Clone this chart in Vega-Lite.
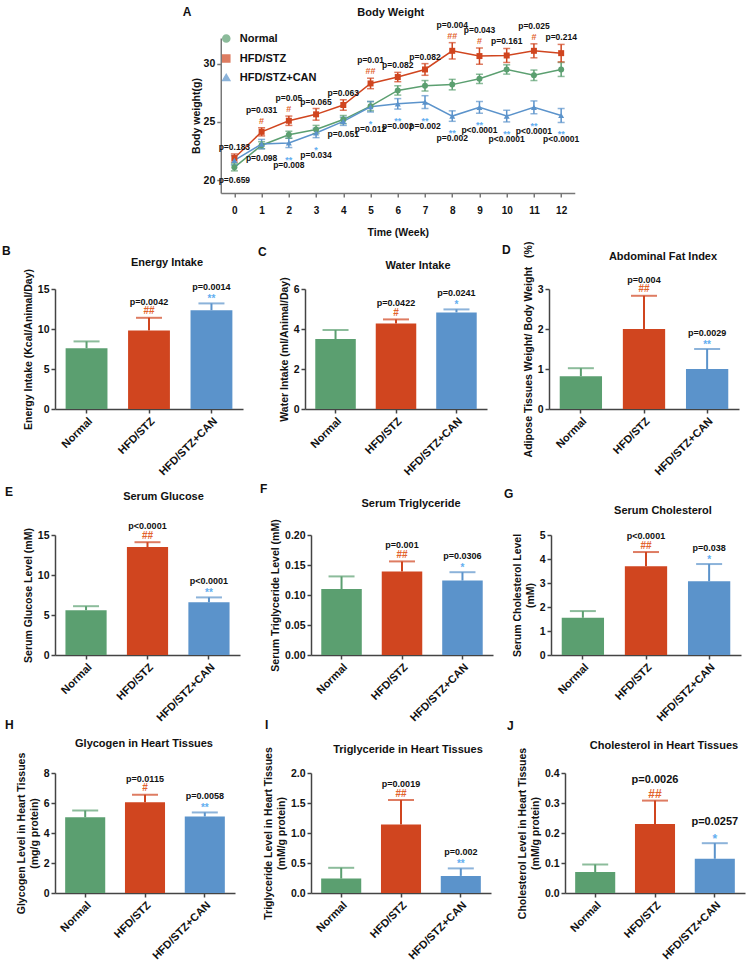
{
"$schema": "https://vega.github.io/schema/vega-lite/v6.json",
"padding": {"left": 2, "top": 5, "right": 2, "bottom": 2},
"background": "white",
"config": {
 "font": "Liberation Sans",
 "view": {"stroke": null},
 "axis": {"grid": false, "labelOverlap": false, "labelFlush": false, "domainColor": "#444", "domainWidth": 1.5, "tickColor": "#444", "tickWidth": 1.5, "tickSize": 4, "labelColor": "#111", "labelFontWeight": "bold", "labelFontSize": 10.5, "labelFont": "Liberation Sans", "titleFont": "Liberation Sans", "titleFontWeight": "bold", "titleFontSize": 10.5, "titleColor": "#111", "labelPadding": 2},
 "title": {"font": "Liberation Sans", "fontWeight": "bold", "fontSize": 11, "color": "#111"},
 "text": {"font": "Liberation Sans"}
},
"datasets": {
 "A": [
  {"week":0,"group":"Normal","mean":21.1,"lo":20.8,"hi":21.4},
  {"week":1,"group":"Normal","mean":23.0,"lo":22.7,"hi":23.3},
  {"week":2,"group":"Normal","mean":23.9,"lo":23.6,"hi":24.2},
  {"week":3,"group":"Normal","mean":24.35,"lo":24.0,"hi":24.7},
  {"week":4,"group":"Normal","mean":25.2,"lo":24.85,"hi":25.55},
  {"week":5,"group":"Normal","mean":26.35,"lo":25.95,"hi":26.75},
  {"week":6,"group":"Normal","mean":27.7,"lo":27.3,"hi":28.1},
  {"week":7,"group":"Normal","mean":28.1,"lo":27.65,"hi":28.55},
  {"week":8,"group":"Normal","mean":28.2,"lo":27.75,"hi":28.65},
  {"week":9,"group":"Normal","mean":28.7,"lo":28.3,"hi":29.1},
  {"week":10,"group":"Normal","mean":29.5,"lo":29.1,"hi":29.9},
  {"week":11,"group":"Normal","mean":29.0,"lo":28.55,"hi":29.45},
  {"week":12,"group":"Normal","mean":29.5,"lo":28.9,"hi":30.1},
  {"week":0,"group":"HFD/STZ","mean":21.9,"lo":21.55,"hi":22.25},
  {"week":1,"group":"HFD/STZ","mean":24.15,"lo":23.8,"hi":24.5},
  {"week":2,"group":"HFD/STZ","mean":25.1,"lo":24.7,"hi":25.5},
  {"week":3,"group":"HFD/STZ","mean":25.65,"lo":25.15,"hi":26.15},
  {"week":4,"group":"HFD/STZ","mean":26.45,"lo":26.0,"hi":26.9},
  {"week":5,"group":"HFD/STZ","mean":28.3,"lo":27.85,"hi":28.75},
  {"week":6,"group":"HFD/STZ","mean":28.85,"lo":28.45,"hi":29.25},
  {"week":7,"group":"HFD/STZ","mean":29.5,"lo":29.0,"hi":30.0},
  {"week":8,"group":"HFD/STZ","mean":31.1,"lo":30.4,"hi":31.8},
  {"week":9,"group":"HFD/STZ","mean":30.65,"lo":29.95,"hi":31.35},
  {"week":10,"group":"HFD/STZ","mean":30.7,"lo":30.1,"hi":31.3},
  {"week":11,"group":"HFD/STZ","mean":31.1,"lo":30.5,"hi":31.7},
  {"week":12,"group":"HFD/STZ","mean":30.9,"lo":30.15,"hi":31.65},
  {"week":0,"group":"HFD/STZ+CAN","mean":21.7,"lo":21.3,"hi":22.1},
  {"week":1,"group":"HFD/STZ+CAN","mean":23.1,"lo":22.7,"hi":23.5},
  {"week":2,"group":"HFD/STZ+CAN","mean":23.2,"lo":22.8,"hi":23.6},
  {"week":3,"group":"HFD/STZ+CAN","mean":24.05,"lo":23.65,"hi":24.45},
  {"week":4,"group":"HFD/STZ+CAN","mean":25.05,"lo":24.7,"hi":25.4},
  {"week":5,"group":"HFD/STZ+CAN","mean":26.3,"lo":25.85,"hi":26.75},
  {"week":6,"group":"HFD/STZ+CAN","mean":26.55,"lo":26.1,"hi":27.0},
  {"week":7,"group":"HFD/STZ+CAN","mean":26.7,"lo":26.15,"hi":27.25},
  {"week":8,"group":"HFD/STZ+CAN","mean":25.5,"lo":25.05,"hi":25.95},
  {"week":9,"group":"HFD/STZ+CAN","mean":26.25,"lo":25.75,"hi":26.75},
  {"week":10,"group":"HFD/STZ+CAN","mean":25.5,"lo":25.0,"hi":26.0},
  {"week":11,"group":"HFD/STZ+CAN","mean":26.25,"lo":25.7,"hi":26.8},
  {"week":12,"group":"HFD/STZ+CAN","mean":25.55,"lo":24.95,"hi":26.15}
 ],
 "annA": [
  {"week":0,"redHi":22.25,"lowLo":20.8,"ptop":"p=0.183","hash":"","pbot":"p=0.659","star":""},
  {"week":1,"redHi":24.5,"lowLo":22.7,"ptop":"p=0.031","hash":"#","pbot":"p=0.098","star":""},
  {"week":2,"redHi":25.5,"lowLo":22.8,"ptop":"p=0.05","hash":"#","pbot":"p=0.008","star":"**"},
  {"week":3,"redHi":26.15,"lowLo":23.65,"ptop":"p=0.065","hash":"","pbot":"p=0.034","star":"*"},
  {"week":4,"redHi":26.9,"lowLo":24.7,"ptop":"p=0.063","hash":"","pbot":"p=0.051","star":""},
  {"week":5,"redHi":28.75,"lowLo":25.85,"ptop":"p=0.01","hash":"##","pbot":"p=0.012","star":"*"},
  {"week":6,"redHi":29.25,"lowLo":26.1,"ptop":"p=0.082","hash":"","pbot":"p=0.002","star":"**"},
  {"week":7,"redHi":30.0,"lowLo":26.15,"ptop":"p=0.082","hash":"","pbot":"p=0.002","star":"**"},
  {"week":8,"redHi":31.8,"lowLo":25.05,"ptop":"p=0.004","hash":"##","pbot":"p=0.002","star":"**"},
  {"week":9,"redHi":31.35,"lowLo":25.75,"ptop":"p=0.043","hash":"#","pbot":"p<0.0001","star":"**"},
  {"week":10,"redHi":31.3,"lowLo":25.0,"ptop":"p=0.161","hash":"","pbot":"p<0.0001","star":"**"},
  {"week":11,"redHi":31.7,"lowLo":25.7,"ptop":"p=0.025","hash":"#","pbot":"p<0.0001","star":"**"},
  {"week":12,"redHi":31.65,"lowLo":24.95,"ptop":"p=0.214","hash":"","pbot":"p<0.0001","star":"**"}
 ],
 "B": [
  {"group":"Normal","mean":7.6,"hi":8.45,"p":"","sig":""},
  {"group":"HFD/STZ","mean":9.8,"hi":11.4,"p":"p=0.0042","sig":"##"},
  {"group":"HFD/STZ+CAN","mean":12.35,"hi":13.2,"p":"p=0.0014","sig":"**"}
 ],
 "C": [
  {"group":"Normal","mean":3.5,"hi":3.95,"p":"","sig":""},
  {"group":"HFD/STZ","mean":4.28,"hi":4.48,"p":"p=0.0422","sig":"#"},
  {"group":"HFD/STZ+CAN","mean":4.83,"hi":4.98,"p":"p=0.0241","sig":"*"}
 ],
 "D": [
  {"group":"Normal","mean":0.82,"hi":1.02,"p":"","sig":""},
  {"group":"HFD/STZ","mean":2.0,"hi":2.83,"p":"p=0.004","sig":"##"},
  {"group":"HFD/STZ+CAN","mean":1.0,"hi":1.5,"p":"p=0.0029","sig":"**"}
 ],
 "E": [
  {"group":"Normal","mean":5.6,"hi":6.1,"p":"","sig":""},
  {"group":"HFD/STZ","mean":13.5,"hi":14.1,"p":"p<0.0001","sig":"##"},
  {"group":"HFD/STZ+CAN","mean":6.6,"hi":7.2,"p":"p<0.0001","sig":"**"}
 ],
 "F": [
  {"group":"Normal","mean":0.11,"hi":0.131,"p":"","sig":""},
  {"group":"HFD/STZ","mean":0.139,"hi":0.156,"p":"p=0.001","sig":"##"},
  {"group":"HFD/STZ+CAN","mean":0.124,"hi":0.138,"p":"p=0.0306","sig":"*"}
 ],
 "G": [
  {"group":"Normal","mean":1.55,"hi":1.83,"p":"","sig":""},
  {"group":"HFD/STZ","mean":3.7,"hi":4.29,"p":"p<0.0001","sig":"##"},
  {"group":"HFD/STZ+CAN","mean":3.07,"hi":3.79,"p":"p=0.038","sig":"*"}
 ],
 "H": [
  {"group":"Normal","mean":5.05,"hi":5.5,"p":"","sig":""},
  {"group":"HFD/STZ","mean":6.05,"hi":6.55,"p":"p=0.0115","sig":"#"},
  {"group":"HFD/STZ+CAN","mean":5.1,"hi":5.37,"p":"p=0.0058","sig":"**"}
 ],
 "I": [
  {"group":"Normal","mean":0.24,"hi":0.42,"p":"","sig":""},
  {"group":"HFD/STZ","mean":1.14,"hi":1.55,"p":"p=0.0019","sig":"##"},
  {"group":"HFD/STZ+CAN","mean":0.285,"hi":0.41,"p":"p=0.002","sig":"**"}
 ],
 "J": [
  {"group":"Normal","mean":0.07,"hi":0.095,"p":"","sig":""},
  {"group":"HFD/STZ","mean":0.23,"hi":0.308,"p":"p=0.0026","sig":"##"},
  {"group":"HFD/STZ+CAN","mean":0.114,"hi":0.166,"p":"p=0.0257","sig":"*"}
 ]
},
"center": true,
"spacing": 3,
"resolve": {"scale": {"color": "independent", "shape": "independent"}},
"vconcat": [
 {
  "title": {"text": "A", "anchor": "start", "frame": "group", "fontSize": 12, "offset": 0, "dx": -38, "dy": 12},
  "resolve": {"scale": {"color": "independent", "shape": "independent"}},
  "vconcat": [
   {
    "width": 354, "height": 155,
    "title": {"text": "Body Weight", "frame": "group", "offset": 3, "dx": -7},
    "layer": [
     {"data": {"name": "A"}, "mark": {"type": "line", "strokeWidth": 1.5},
      "encoding": {
       "x": {"field": "week", "type": "quantitative", "scale": {"domain": [-0.5, 12.5], "nice": false, "zero": false}, "axis": {"values": [0,1,2,3,4,5,6,7,8,9,10,11,12], "tickCount": 40, "format": "d", "labelOverlap": false, "title": "Time (Week)", "labelFontSize": 10, "labelPadding": 8, "titlePadding": 12, "domainColor": "#777", "tickColor": "#777"}},
       "y": {"field": "mean", "type": "quantitative", "scale": {"domain": [18.9, 32.2], "nice": false, "zero": false}, "axis": {"values": [20, 25, 30], "tickCount": 20, "format": "d", "labelOverlap": false, "title": "Body weight(g)", "titlePadding": 2, "domainColor": "#777", "tickColor": "#777"}},
       "color": {"field": "group", "type": "nominal", "scale": {"domain": ["Normal", "HFD/STZ", "HFD/STZ+CAN"], "range": ["#5b9f70", "#d0451f", "#5b93cb"]}, "legend": {"title": null, "orient": "none", "legendX": 0, "legendY": -5, "labelFontSize": 11, "labelFontWeight": "bold", "labelColor": "#111", "symbolSize": 50, "rowPadding": 5, "labelOffset": 8}}
      }},
     {"data": {"name": "A"}, "mark": {"type": "rule", "strokeWidth": 1.5},
      "encoding": {"x": {"field": "week", "type": "quantitative"}, "y": {"field": "lo", "type": "quantitative"}, "y2": {"field": "hi"}, "color": {"field": "group", "type": "nominal"}}},
     {"data": {"name": "A"}, "mark": {"type": "tick", "orient": "horizontal", "thickness": 1.5, "size": 7},
      "encoding": {"x": {"field": "week", "type": "quantitative"}, "y": {"field": "hi", "type": "quantitative"}, "color": {"field": "group", "type": "nominal"}}},
     {"data": {"name": "A"}, "mark": {"type": "tick", "orient": "horizontal", "thickness": 1.5, "size": 7},
      "encoding": {"x": {"field": "week", "type": "quantitative"}, "y": {"field": "lo", "type": "quantitative"}, "color": {"field": "group", "type": "nominal"}}},
     {"data": {"name": "A"}, "mark": {"type": "point", "filled": true, "size": 36, "opacity": 1},
      "encoding": {"x": {"field": "week", "type": "quantitative"}, "y": {"field": "mean", "type": "quantitative"},
       "color": {"field": "group", "type": "nominal", "legend": {"title": null, "orient": "none", "legendX": 0, "legendY": -5, "labelFontSize": 11, "labelFontWeight": "bold", "labelColor": "#111", "symbolSize": 50, "rowPadding": 5, "labelOffset": 8}},
       "shape": {"field": "group", "type": "nominal", "scale": {"domain": ["Normal", "HFD/STZ", "HFD/STZ+CAN"], "range": ["circle", "square", "triangle-up"]}, "legend": {"title": null, "orient": "none", "legendX": 0, "legendY": -5, "labelFontSize": 11, "labelFontWeight": "bold", "labelColor": "#111", "symbolSize": 50, "rowPadding": 5, "labelOffset": 8}}}},
     {"data": {"name": "annA"}, "transform": [{"filter": "datum.hash != ''"}], "mark": {"type": "text", "fontSize": 8.5, "fontWeight": "bold", "baseline": "alphabetic", "dy": -15, "color": "#111"},
      "encoding": {"x": {"field": "week", "type": "quantitative"}, "y": {"field": "redHi", "type": "quantitative"}, "text": {"field": "ptop"}}},
     {"data": {"name": "annA"}, "transform": [{"filter": "datum.hash == ''"}], "mark": {"type": "text", "fontSize": 8.5, "fontWeight": "bold", "baseline": "alphabetic", "dy": -4, "color": "#111"},
      "encoding": {"x": {"field": "week", "type": "quantitative"}, "y": {"field": "redHi", "type": "quantitative"}, "text": {"field": "ptop"}}},
     {"data": {"name": "annA"}, "transform": [{"filter": "datum.hash != ''"}], "mark": {"type": "text", "fontSize": 9, "fontWeight": "bold", "baseline": "alphabetic", "dy": -4, "color": "#e2622c"},
      "encoding": {"x": {"field": "week", "type": "quantitative"}, "y": {"field": "redHi", "type": "quantitative"}, "text": {"field": "hash"}}},
     {"data": {"name": "annA"}, "transform": [{"filter": "datum.star != ''"}], "mark": {"type": "text", "fontSize": 8.5, "fontWeight": "bold", "baseline": "top", "dy": 13, "color": "#111"},
      "encoding": {"x": {"field": "week", "type": "quantitative"}, "y": {"field": "lowLo", "type": "quantitative"}, "text": {"field": "pbot"}}},
     {"data": {"name": "annA"}, "transform": [{"filter": "datum.star == ''"}], "mark": {"type": "text", "fontSize": 8.5, "fontWeight": "bold", "baseline": "top", "dy": 5, "color": "#111"},
      "encoding": {"x": {"field": "week", "type": "quantitative"}, "y": {"field": "lowLo", "type": "quantitative"}, "text": {"field": "pbot"}}},
     {"data": {"name": "annA"}, "transform": [{"filter": "datum.star != ''"}], "mark": {"type": "text", "fontSize": 9, "fontWeight": "bold", "baseline": "alphabetic", "dy": 15, "color": "#62aef0"},
      "encoding": {"x": {"field": "week", "type": "quantitative"}, "y": {"field": "lowLo", "type": "quantitative"}, "text": {"field": "star"}}}
    ]
   }
  ]
 },
 {
  "spacing": 5,
  "vconcat": [
   {
    "spacing": 15,
    "hconcat": [
     {"title": {"text": "B", "anchor": "start", "frame": "group", "fontSize": 12, "offset": 0, "dx": -53, "dy": 1},
      "vconcat": [{"width": 188, "height": 120, "title": {"text": "Energy Intake", "frame": "group", "offset": 0.5, "dx": 18}, "data": {"name": "B"},
       "encoding": {"x": {"field": "group", "type": "nominal", "sort": null, "scale": {"paddingInner": 0.33, "paddingOuter": 0.17}, "axis": {"title": null, "labelAngle": -45, "labelFontSize": 11}}},
       "layer": [
        {"mark": {"type": "bar"}, "encoding": {"y": {"field": "mean", "type": "quantitative", "scale": {"domain": [0, 15], "nice": false}, "axis": {"values": [0, 5, 10, 15], "tickCount": 20, "format": "d", "labelOverlap": false, "title": "Energy Intake (Kcal/Animal/Day)"}}, "color": {"field": "group", "type": "nominal", "scale": {"domain": ["Normal", "HFD/STZ", "HFD/STZ+CAN"], "range": ["#5b9f70", "#d0451f", "#5b93cb"]}, "legend": null}}},
        {"mark": {"type": "rule", "strokeWidth": 2}, "encoding": {"y": {"field": "mean", "type": "quantitative"}, "y2": {"field": "hi"}, "color": {"field": "group", "type": "nominal", "legend": null}}},
        {"mark": {"type": "tick", "orient": "horizontal", "thickness": 2, "size": 26}, "encoding": {"y": {"field": "hi", "type": "quantitative"}, "color": {"field": "group", "type": "nominal", "legend": null}}},
        {"mark": {"type": "text", "fontSize": 9, "fontWeight": "bold", "baseline": "alphabetic", "dy": -13, "color": "#111"}, "encoding": {"y": {"field": "hi", "type": "quantitative"}, "text": {"field": "p"}}},
        {"transform": [{"filter": "indexof(datum.sig, '#') >= 0"}], "mark": {"type": "text", "fontSize": 10, "fontWeight": "bold", "baseline": "alphabetic", "dy": -3.5, "color": "#e2622c"}, "encoding": {"y": {"field": "hi", "type": "quantitative"}, "text": {"field": "sig"}}},
        {"transform": [{"filter": "indexof(datum.sig, '*') >= 0"}], "mark": {"type": "text", "fontSize": 10, "fontWeight": "bold", "baseline": "alphabetic", "dy": -1.5, "color": "#62aef0"}, "encoding": {"y": {"field": "hi", "type": "quantitative"}, "text": {"field": "sig"}}}
       ]}]},
     {"title": {"text": "C", "anchor": "start", "frame": "group", "fontSize": 12, "offset": 0, "dx": -47, "dy": -1},
      "vconcat": [{"width": 182, "height": 120, "title": {"text": "Water Intake", "frame": "group", "offset": 5.5, "dx": 22}, "data": {"name": "C"},
       "encoding": {"x": {"field": "group", "type": "nominal", "sort": null, "scale": {"paddingInner": 0.33, "paddingOuter": 0.17}, "axis": {"title": null, "labelAngle": -45, "labelFontSize": 11}}},
       "layer": [
        {"mark": {"type": "bar"}, "encoding": {"y": {"field": "mean", "type": "quantitative", "scale": {"domain": [0, 6], "nice": false}, "axis": {"values": [0, 2, 4, 6], "tickCount": 20, "format": "d", "labelOverlap": false, "title": "Water Intake (ml/Animal/Day)"}}, "color": {"field": "group", "type": "nominal", "scale": {"domain": ["Normal", "HFD/STZ", "HFD/STZ+CAN"], "range": ["#5b9f70", "#d0451f", "#5b93cb"]}, "legend": null}}},
        {"mark": {"type": "rule", "strokeWidth": 2}, "encoding": {"y": {"field": "mean", "type": "quantitative"}, "y2": {"field": "hi"}, "color": {"field": "group", "type": "nominal", "legend": null}}},
        {"mark": {"type": "tick", "orient": "horizontal", "thickness": 2, "size": 26}, "encoding": {"y": {"field": "hi", "type": "quantitative"}, "color": {"field": "group", "type": "nominal", "legend": null}}},
        {"mark": {"type": "text", "fontSize": 9, "fontWeight": "bold", "baseline": "alphabetic", "dy": -13, "color": "#111"}, "encoding": {"y": {"field": "hi", "type": "quantitative"}, "text": {"field": "p"}}},
        {"transform": [{"filter": "indexof(datum.sig, '#') >= 0"}], "mark": {"type": "text", "fontSize": 10, "fontWeight": "bold", "baseline": "alphabetic", "dy": -3.5, "color": "#e2622c"}, "encoding": {"y": {"field": "hi", "type": "quantitative"}, "text": {"field": "sig"}}},
        {"transform": [{"filter": "indexof(datum.sig, '*') >= 0"}], "mark": {"type": "text", "fontSize": 10, "fontWeight": "bold", "baseline": "alphabetic", "dy": -1.5, "color": "#62aef0"}, "encoding": {"y": {"field": "hi", "type": "quantitative"}, "text": {"field": "sig"}}}
       ]}]},
     {"title": {"text": "D", "anchor": "start", "frame": "group", "fontSize": 12, "offset": 0, "dx": -47, "dy": 16},
      "vconcat": [{"width": 190, "height": 120, "title": {"text": "Abdominal Fat Index", "frame": "group", "offset": -21, "dx": 19}, "data": {"name": "D"},
       "encoding": {"x": {"field": "group", "type": "nominal", "sort": null, "scale": {"paddingInner": 0.33, "paddingOuter": 0.17}, "axis": {"title": null, "labelAngle": -45, "labelFontSize": 11}}},
       "layer": [
        {"mark": {"type": "bar"}, "encoding": {"y": {"field": "mean", "type": "quantitative", "scale": {"domain": [0, 3], "nice": false}, "axis": {"values": [0, 1, 2, 3], "tickCount": 20, "format": "d", "labelOverlap": false, "title": "Adipose Tissues Weight/ Body Weight\u00a0\u00a0\u00a0(%)"}}, "color": {"field": "group", "type": "nominal", "scale": {"domain": ["Normal", "HFD/STZ", "HFD/STZ+CAN"], "range": ["#5b9f70", "#d0451f", "#5b93cb"]}, "legend": null}}},
        {"mark": {"type": "rule", "strokeWidth": 2}, "encoding": {"y": {"field": "mean", "type": "quantitative"}, "y2": {"field": "hi"}, "color": {"field": "group", "type": "nominal", "legend": null}}},
        {"mark": {"type": "tick", "orient": "horizontal", "thickness": 2, "size": 26}, "encoding": {"y": {"field": "hi", "type": "quantitative"}, "color": {"field": "group", "type": "nominal", "legend": null}}},
        {"mark": {"type": "text", "fontSize": 9, "fontWeight": "bold", "baseline": "alphabetic", "dy": -13, "color": "#111"}, "encoding": {"y": {"field": "hi", "type": "quantitative"}, "text": {"field": "p"}}},
        {"transform": [{"filter": "indexof(datum.sig, '#') >= 0"}], "mark": {"type": "text", "fontSize": 10, "fontWeight": "bold", "baseline": "alphabetic", "dy": -3.5, "color": "#e2622c"}, "encoding": {"y": {"field": "hi", "type": "quantitative"}, "text": {"field": "sig"}}},
        {"transform": [{"filter": "indexof(datum.sig, '*') >= 0"}], "mark": {"type": "text", "fontSize": 10, "fontWeight": "bold", "baseline": "alphabetic", "dy": -1.5, "color": "#62aef0"}, "encoding": {"y": {"field": "hi", "type": "quantitative"}, "text": {"field": "sig"}}}
       ]}]}
    ]
   },
   {
    "spacing": -6,
    "vconcat": [
     {
      "spacing": 20,
      "hconcat": [
       {"title": {"text": "E", "anchor": "start", "frame": "group", "fontSize": 12, "offset": 0, "dx": -50, "dy": 8},
        "vconcat": [{"width": 185, "height": 120, "title": {"text": "Serum Glucose", "frame": "group", "offset": 20.5, "dx": 16}, "data": {"name": "E"},
         "encoding": {"x": {"field": "group", "type": "nominal", "sort": null, "scale": {"paddingInner": 0.33, "paddingOuter": 0.17}, "axis": {"title": null, "labelAngle": -45, "labelFontSize": 11}}},
         "layer": [
          {"mark": {"type": "bar"}, "encoding": {"y": {"field": "mean", "type": "quantitative", "scale": {"domain": [0, 15], "nice": false}, "axis": {"values": [0, 5, 10, 15], "tickCount": 20, "format": "d", "labelOverlap": false, "title": "Serum Glucose Level (mM)"}}, "color": {"field": "group", "type": "nominal", "scale": {"domain": ["Normal", "HFD/STZ", "HFD/STZ+CAN"], "range": ["#5b9f70", "#d0451f", "#5b93cb"]}, "legend": null}}},
          {"mark": {"type": "rule", "strokeWidth": 2}, "encoding": {"y": {"field": "mean", "type": "quantitative"}, "y2": {"field": "hi"}, "color": {"field": "group", "type": "nominal", "legend": null}}},
          {"mark": {"type": "tick", "orient": "horizontal", "thickness": 2, "size": 26}, "encoding": {"y": {"field": "hi", "type": "quantitative"}, "color": {"field": "group", "type": "nominal", "legend": null}}},
          {"mark": {"type": "text", "fontSize": 9, "fontWeight": "bold", "baseline": "alphabetic", "dy": -13, "color": "#111"}, "encoding": {"y": {"field": "hi", "type": "quantitative"}, "text": {"field": "p"}}},
          {"transform": [{"filter": "indexof(datum.sig, '#') >= 0"}], "mark": {"type": "text", "fontSize": 10, "fontWeight": "bold", "baseline": "alphabetic", "dy": -3.5, "color": "#e2622c"}, "encoding": {"y": {"field": "hi", "type": "quantitative"}, "text": {"field": "sig"}}},
          {"transform": [{"filter": "indexof(datum.sig, '*') >= 0"}], "mark": {"type": "text", "fontSize": 10, "fontWeight": "bold", "baseline": "alphabetic", "dy": -1.5, "color": "#62aef0"}, "encoding": {"y": {"field": "hi", "type": "quantitative"}, "text": {"field": "sig"}}}
         ]}]},
       {
        "spacing": 11,
        "hconcat": [
         {"title": {"text": "F", "anchor": "start", "frame": "group", "fontSize": 12, "offset": 0, "dx": -51, "dy": -2},
          "vconcat": [{"width": 182, "height": 120, "title": {"text": "Serum Triglyceride", "frame": "group", "offset": 9.5, "dx": 9}, "data": {"name": "F"},
           "encoding": {"x": {"field": "group", "type": "nominal", "sort": null, "scale": {"paddingInner": 0.33, "paddingOuter": 0.17}, "axis": {"title": null, "labelAngle": -45, "labelFontSize": 11}}},
           "layer": [
            {"mark": {"type": "bar"}, "encoding": {"y": {"field": "mean", "type": "quantitative", "scale": {"domain": [0, 0.2], "nice": false}, "axis": {"values": [0, 0.05, 0.1, 0.15, 0.2], "tickCount": 20, "labelOverlap": false, "format": ".2f", "title": "Serum Triglyceride Level (mM)"}}, "color": {"field": "group", "type": "nominal", "scale": {"domain": ["Normal", "HFD/STZ", "HFD/STZ+CAN"], "range": ["#5b9f70", "#d0451f", "#5b93cb"]}, "legend": null}}},
            {"mark": {"type": "rule", "strokeWidth": 2}, "encoding": {"y": {"field": "mean", "type": "quantitative"}, "y2": {"field": "hi"}, "color": {"field": "group", "type": "nominal", "legend": null}}},
            {"mark": {"type": "tick", "orient": "horizontal", "thickness": 2, "size": 26}, "encoding": {"y": {"field": "hi", "type": "quantitative"}, "color": {"field": "group", "type": "nominal", "legend": null}}},
            {"mark": {"type": "text", "fontSize": 9, "fontWeight": "bold", "baseline": "alphabetic", "dy": -13, "color": "#111"}, "encoding": {"y": {"field": "hi", "type": "quantitative"}, "text": {"field": "p"}}},
            {"transform": [{"filter": "indexof(datum.sig, '#') >= 0"}], "mark": {"type": "text", "fontSize": 10, "fontWeight": "bold", "baseline": "alphabetic", "dy": -3.5, "color": "#e2622c"}, "encoding": {"y": {"field": "hi", "type": "quantitative"}, "text": {"field": "sig"}}},
            {"transform": [{"filter": "indexof(datum.sig, '*') >= 0"}], "mark": {"type": "text", "fontSize": 10, "fontWeight": "bold", "baseline": "alphabetic", "dy": -1.5, "color": "#62aef0"}, "encoding": {"y": {"field": "hi", "type": "quantitative"}, "text": {"field": "sig"}}}
           ]}]},
         {"title": {"text": "G", "anchor": "start", "frame": "group", "fontSize": 12, "offset": 0, "dx": -47, "dy": -4},
          "vconcat": [{"width": 190, "height": 120, "title": {"text": "Serum Cholesterol", "frame": "group", "offset": 14.5, "dx": 17}, "data": {"name": "G"},
           "encoding": {"x": {"field": "group", "type": "nominal", "sort": null, "scale": {"paddingInner": 0.33, "paddingOuter": 0.17}, "axis": {"title": null, "labelAngle": -45, "labelFontSize": 11}}},
           "layer": [
            {"mark": {"type": "bar"}, "encoding": {"y": {"field": "mean", "type": "quantitative", "scale": {"domain": [0, 5], "nice": false}, "axis": {"values": [0, 1, 2, 3, 4, 5], "tickCount": 20, "format": "d", "labelOverlap": false, "title": ["Serum Cholesterol Level", "(mM)"]}}, "color": {"field": "group", "type": "nominal", "scale": {"domain": ["Normal", "HFD/STZ", "HFD/STZ+CAN"], "range": ["#5b9f70", "#d0451f", "#5b93cb"]}, "legend": null}}},
            {"mark": {"type": "rule", "strokeWidth": 2}, "encoding": {"y": {"field": "mean", "type": "quantitative"}, "y2": {"field": "hi"}, "color": {"field": "group", "type": "nominal", "legend": null}}},
            {"mark": {"type": "tick", "orient": "horizontal", "thickness": 2, "size": 26}, "encoding": {"y": {"field": "hi", "type": "quantitative"}, "color": {"field": "group", "type": "nominal", "legend": null}}},
            {"mark": {"type": "text", "fontSize": 9, "fontWeight": "bold", "baseline": "alphabetic", "dy": -13, "color": "#111"}, "encoding": {"y": {"field": "hi", "type": "quantitative"}, "text": {"field": "p"}}},
            {"transform": [{"filter": "indexof(datum.sig, '#') >= 0"}], "mark": {"type": "text", "fontSize": 10, "fontWeight": "bold", "baseline": "alphabetic", "dy": -3.5, "color": "#e2622c"}, "encoding": {"y": {"field": "hi", "type": "quantitative"}, "text": {"field": "sig"}}},
            {"transform": [{"filter": "indexof(datum.sig, '*') >= 0"}], "mark": {"type": "text", "fontSize": 10, "fontWeight": "bold", "baseline": "alphabetic", "dy": -1.5, "color": "#62aef0"}, "encoding": {"y": {"field": "hi", "type": "quantitative"}, "text": {"field": "sig"}}}
           ]}]}
        ]
       }
      ]
     },
     {
      "spacing": 28,
      "hconcat": [
       {"title": {"text": "H", "anchor": "start", "frame": "group", "fontSize": 12, "offset": 0, "dx": -50, "dy": -6},
        "vconcat": [{"width": 180, "height": 120, "title": {"text": "Glycogen in Heart Tissues", "frame": "group", "offset": 3.5, "dx": -1}, "data": {"name": "H"},
         "encoding": {"x": {"field": "group", "type": "nominal", "sort": null, "scale": {"paddingInner": 0.33, "paddingOuter": 0.17}, "axis": {"title": null, "labelAngle": -45, "labelFontSize": 11}}},
         "layer": [
          {"mark": {"type": "bar"}, "encoding": {"y": {"field": "mean", "type": "quantitative", "scale": {"domain": [0, 8], "nice": false}, "axis": {"values": [0, 2, 4, 6, 8], "tickCount": 20, "format": "d", "labelOverlap": false, "title": ["Glycogen Level in Heart Tissues", "(mg/g protein)"]}}, "color": {"field": "group", "type": "nominal", "scale": {"domain": ["Normal", "HFD/STZ", "HFD/STZ+CAN"], "range": ["#5b9f70", "#d0451f", "#5b93cb"]}, "legend": null}}},
          {"mark": {"type": "rule", "strokeWidth": 2}, "encoding": {"y": {"field": "mean", "type": "quantitative"}, "y2": {"field": "hi"}, "color": {"field": "group", "type": "nominal", "legend": null}}},
          {"mark": {"type": "tick", "orient": "horizontal", "thickness": 2, "size": 26}, "encoding": {"y": {"field": "hi", "type": "quantitative"}, "color": {"field": "group", "type": "nominal", "legend": null}}},
          {"mark": {"type": "text", "fontSize": 9, "fontWeight": "bold", "baseline": "alphabetic", "dy": -13, "color": "#111"}, "encoding": {"y": {"field": "hi", "type": "quantitative"}, "text": {"field": "p"}}},
          {"transform": [{"filter": "indexof(datum.sig, '#') >= 0"}], "mark": {"type": "text", "fontSize": 10, "fontWeight": "bold", "baseline": "alphabetic", "dy": -3.5, "color": "#e2622c"}, "encoding": {"y": {"field": "hi", "type": "quantitative"}, "text": {"field": "sig"}}},
          {"transform": [{"filter": "indexof(datum.sig, '*') >= 0"}], "mark": {"type": "text", "fontSize": 10, "fontWeight": "bold", "baseline": "alphabetic", "dy": -1.5, "color": "#62aef0"}, "encoding": {"y": {"field": "hi", "type": "quantitative"}, "text": {"field": "sig"}}}
         ]}]},
       {
        "spacing": 16,
        "hconcat": [
         {"title": {"text": "I", "anchor": "start", "frame": "group", "fontSize": 12, "offset": 0, "dx": -46, "dy": -12},
          "vconcat": [{"width": 180, "height": 120, "title": {"text": "Triglyceride in Heart Tissues", "frame": "group", "offset": -8.5, "dx": 7}, "data": {"name": "I"},
           "encoding": {"x": {"field": "group", "type": "nominal", "sort": null, "scale": {"paddingInner": 0.33, "paddingOuter": 0.17}, "axis": {"title": null, "labelAngle": -45, "labelFontSize": 11}}},
           "layer": [
            {"mark": {"type": "bar"}, "encoding": {"y": {"field": "mean", "type": "quantitative", "scale": {"domain": [0, 2], "nice": false}, "axis": {"values": [0, 0.5, 1, 1.5, 2], "tickCount": 20, "labelOverlap": false, "format": ".1f", "title": ["Triglyceride Level in Heart Tissues", "(mM/g protein)"]}}, "color": {"field": "group", "type": "nominal", "scale": {"domain": ["Normal", "HFD/STZ", "HFD/STZ+CAN"], "range": ["#5b9f70", "#d0451f", "#5b93cb"]}, "legend": null}}},
            {"mark": {"type": "rule", "strokeWidth": 2}, "encoding": {"y": {"field": "mean", "type": "quantitative"}, "y2": {"field": "hi"}, "color": {"field": "group", "type": "nominal", "legend": null}}},
            {"mark": {"type": "tick", "orient": "horizontal", "thickness": 2, "size": 26}, "encoding": {"y": {"field": "hi", "type": "quantitative"}, "color": {"field": "group", "type": "nominal", "legend": null}}},
            {"mark": {"type": "text", "fontSize": 9, "fontWeight": "bold", "baseline": "alphabetic", "dy": -13, "color": "#111"}, "encoding": {"y": {"field": "hi", "type": "quantitative"}, "text": {"field": "p"}}},
            {"transform": [{"filter": "indexof(datum.sig, '#') >= 0"}], "mark": {"type": "text", "fontSize": 10, "fontWeight": "bold", "baseline": "alphabetic", "dy": -3.5, "color": "#e2622c"}, "encoding": {"y": {"field": "hi", "type": "quantitative"}, "text": {"field": "sig"}}},
            {"transform": [{"filter": "indexof(datum.sig, '*') >= 0"}], "mark": {"type": "text", "fontSize": 10, "fontWeight": "bold", "baseline": "alphabetic", "dy": -1.5, "color": "#62aef0"}, "encoding": {"y": {"field": "hi", "type": "quantitative"}, "text": {"field": "sig"}}}
           ]}]},
         {"title": {"text": "J", "anchor": "start", "frame": "group", "fontSize": 12, "offset": 0, "dx": -58, "dy": -7},
          "vconcat": [{"width": 180, "height": 120, "title": {"text": "Cholesterol  in Heart Tissues", "frame": "group", "offset": -3.5, "dx": 9}, "data": {"name": "J"},
           "encoding": {"x": {"field": "group", "type": "nominal", "sort": null, "scale": {"paddingInner": 0.33, "paddingOuter": 0.17}, "axis": {"title": null, "labelAngle": -45, "labelFontSize": 11}}},
           "layer": [
            {"mark": {"type": "bar"}, "encoding": {"y": {"field": "mean", "type": "quantitative", "scale": {"domain": [0, 0.4], "nice": false}, "axis": {"values": [0, 0.1, 0.2, 0.3, 0.4], "tickCount": 20, "labelOverlap": false, "format": ".1f", "title": ["Cholesterol Level in Heart Tissues", "(mM/g protein)"]}}, "color": {"field": "group", "type": "nominal", "scale": {"domain": ["Normal", "HFD/STZ", "HFD/STZ+CAN"], "range": ["#5b9f70", "#d0451f", "#5b93cb"]}, "legend": null}}},
            {"mark": {"type": "rule", "strokeWidth": 2}, "encoding": {"y": {"field": "mean", "type": "quantitative"}, "y2": {"field": "hi"}, "color": {"field": "group", "type": "nominal", "legend": null}}},
            {"mark": {"type": "tick", "orient": "horizontal", "thickness": 2, "size": 26}, "encoding": {"y": {"field": "hi", "type": "quantitative"}, "color": {"field": "group", "type": "nominal", "legend": null}}},
            {"mark": {"type": "text", "fontSize": 11, "fontWeight": "bold", "baseline": "alphabetic", "dy": -18, "color": "#111"}, "encoding": {"y": {"field": "hi", "type": "quantitative"}, "text": {"field": "p"}}},
            {"transform": [{"filter": "indexof(datum.sig, '#') >= 0"}], "mark": {"type": "text", "fontSize": 12, "fontWeight": "bold", "baseline": "alphabetic", "dy": -3, "color": "#e2622c"}, "encoding": {"y": {"field": "hi", "type": "quantitative"}, "text": {"field": "sig"}}},
            {"transform": [{"filter": "indexof(datum.sig, '*') >= 0"}], "mark": {"type": "text", "fontSize": 12, "fontWeight": "bold", "baseline": "alphabetic", "dy": 0, "color": "#62aef0"}, "encoding": {"y": {"field": "hi", "type": "quantitative"}, "text": {"field": "sig"}}}
           ]}]}
        ]
       }
      ]
     }
    ]
   }
  ]
 }
]
}
